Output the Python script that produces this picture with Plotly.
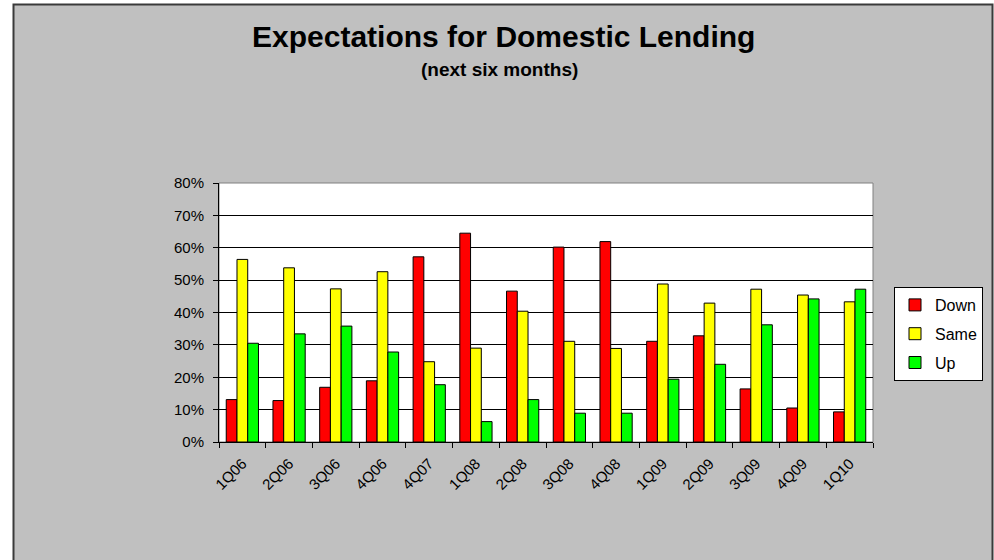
import plotly.graph_objects as go

categories = ["1Q06", "2Q06", "3Q06", "4Q06", "4Q07", "1Q08", "2Q08",
              "3Q08", "4Q08", "1Q09", "2Q09", "3Q09", "4Q09", "1Q10"]
down = [13.1, 12.8, 16.9, 18.9, 57.2, 64.5, 46.6, 60.2, 61.9, 31.1, 32.8, 16.4, 10.5, 9.3]
same = [56.4, 53.8, 47.3, 52.6, 24.8, 29.0, 40.4, 31.1, 28.9, 48.8, 42.9, 47.2, 45.4, 43.3]
up = [30.5, 33.4, 35.8, 27.8, 17.7, 6.3, 13.1, 8.9, 8.9, 19.4, 24.0, 36.2, 44.2, 47.2]
series_names = ["Down", "Same", "Up"]
series_colors = ["#FF0000", "#FFFF00", "#00FF00"]
y_ticks = [0, 10, 20, 30, 40, 50, 60, 70, 80]
y_tick_labels = [f"{v}%" for v in y_ticks]

FONT = "Liberation Sans, Arial, sans-serif"
W, H = 994, 560

fig = go.Figure()
for name, vals, col in zip(series_names, [down, same, up], series_colors):
    fig.add_trace(go.Bar(
        x=categories, y=vals, name=name, legendgroup=name,
        marker=dict(color=col, line=dict(color="#000000", width=1)),
    ))

px0, px1 = 219 / W, 873 / W
py0, py1 = 1 - 442 / H, 1 - 183 / H

fig.update_layout(
    width=W, height=H,
    margin=dict(l=0, r=0, t=0, b=0, pad=0, autoexpand=False),
    paper_bgcolor="#FFFFFF",
    plot_bgcolor="rgba(0,0,0,0)",
    font=dict(family=FONT, color="#000000", size=14),
    barmode="group", bargap=0.31, bargroupgap=0,
    showlegend=True,
    legend=dict(
        x=894 / W, y=1 - 287 / H, xanchor="left", yanchor="top",
        bgcolor="#FFFFFF", bordercolor="#000000", borderwidth=1,
        font=dict(family=FONT, size=16, color="#000000"),
        traceorder="grouped", tracegroupgap=5,
    ),
    xaxis=dict(
        domain=[px0, px1], type="category", automargin=False,
        showline=True, linecolor="#000000", linewidth=1,
        ticks="outside", tickson="boundaries", ticklen=5, tickcolor="#000000",
        tickangle=-45, tickfont=dict(family=FONT, size=15, color="#000000"),
        ticklabelstandoff=6,
        showgrid=False,
    ),
    yaxis=dict(
        domain=[py0, py1], range=[0, 80], automargin=False,
        tickmode="array", tickvals=y_ticks, ticktext=y_tick_labels,
        showline=True, linecolor="#000000", linewidth=1,
        ticks="outside", ticklen=5, tickcolor="#000000",
        ticklabelstandoff=6,
        showgrid=True, gridcolor="#000000", gridwidth=1,
        tickfont=dict(family=FONT, size=15, color="#000000"),
        zeroline=False,
    ),
    shapes=[
        dict(type="rect", xref="paper", yref="paper", layer="below",
             x0=13.5 / W, x1=992.5 / W, y0=-0.02, y1=1 - 4.5 / H,
             fillcolor="#C0C0C0", line=dict(color="#3A3A3A", width=2)),
        dict(type="rect", xref="paper", yref="paper", layer="below",
             x0=px0, x1=px1, y0=py0, y1=py1,
             fillcolor="#FFFFFF", line=dict(color="#808080", width=1)),
    ],
    annotations=[
        dict(text="<b>Expectations for Domestic Lending</b>", xref="paper", yref="paper",
             x=503.5 / W, y=1 - 37 / H, xanchor="center", yanchor="middle",
             showarrow=False, font=dict(family=FONT, size=30, color="#000000")),
        dict(text="<b>(next six months)</b>", xref="paper", yref="paper",
             x=499 / W, y=1 - 69 / H, xanchor="center", yanchor="middle",
             showarrow=False, font=dict(family=FONT, size=19, color="#000000")),
    ],
)

fig.write_html("out.html")
